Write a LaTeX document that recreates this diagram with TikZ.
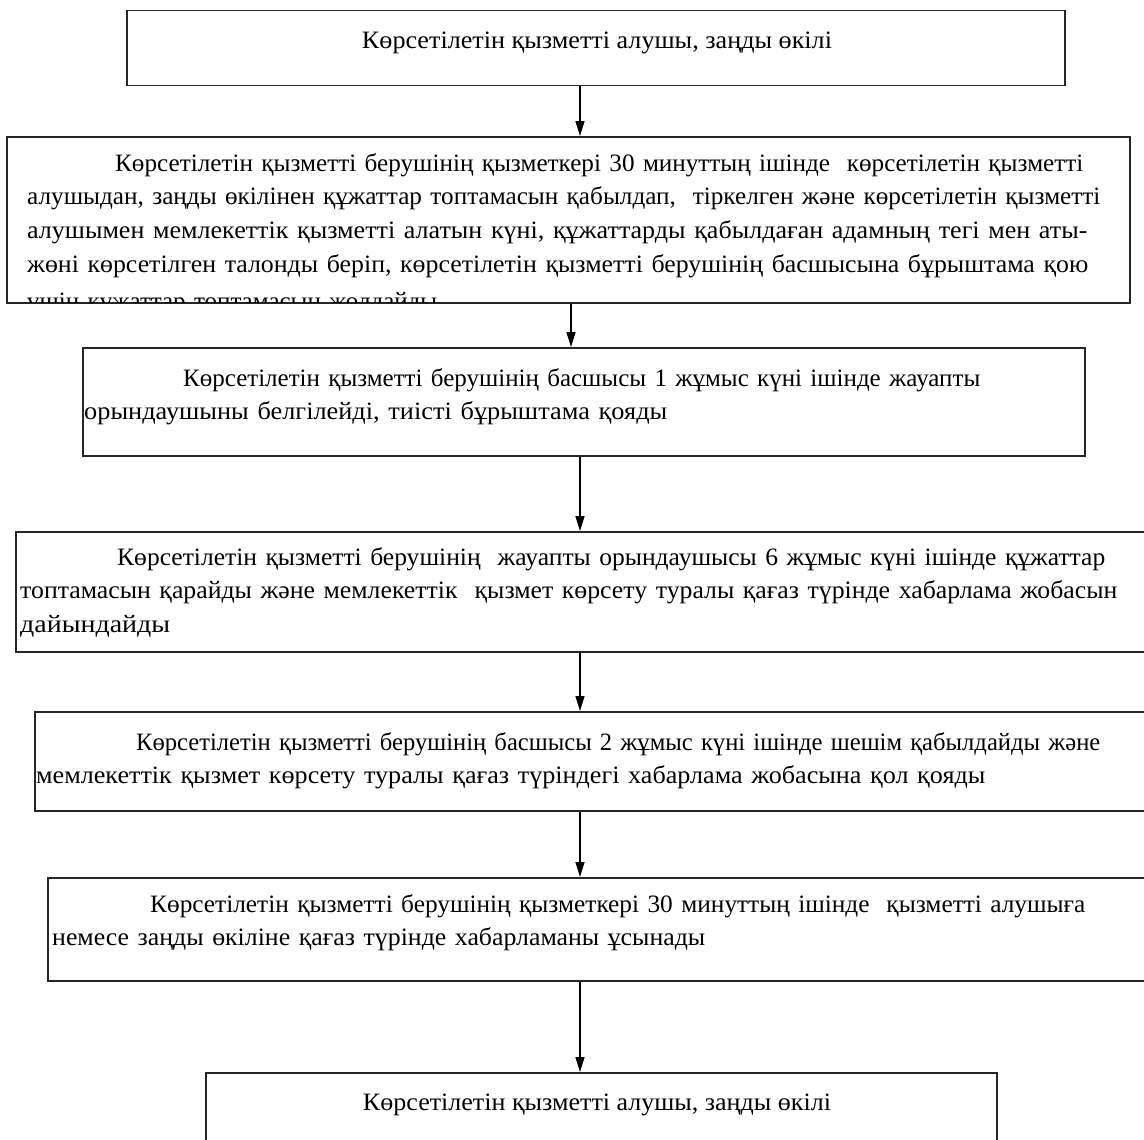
\documentclass[tikz,border=0pt]{standalone}
\usepackage{graphicx}
\usepackage{fontspec}
\setmainfont{Liberation Serif}
\usetikzlibrary{arrows.meta}
\newcommand{\fitline}[2]{\resizebox{#1pt}{\height}{#2}}
\newcommand{\justline}[2]{\makebox[#1pt][s]{#2}}
\begin{document}
\begin{tikzpicture}[x=1pt,y=-1pt,
  box/.style={draw=black!85,line width=1.5pt,rectangle,inner sep=0pt,anchor=north west},
  para/.style={anchor=base west,inner sep=0pt,text width=1150pt,align=left,font=\fontsize{25}{33.8}\selectfont},
  ctr/.style={anchor=base,inner sep=0pt,font=\fontsize{25}{33.8}\selectfont},
  arr/.style={draw=black,line width=1.5pt,-{Triangle[length=15pt,width=9pt]}}]
\useasboundingbox (0,0) rectangle (1144,1140);
\begin{scope}
\clip (0,0) rectangle (1144,1140);
% boxes
\node[box,minimum width=938pt,minimum height=75pt] (b1) at (126,10) {};
\node[box,minimum width=1123pt,minimum height=166pt] (b2) at (6,136) {};
\node[box,minimum width=1002pt,minimum height=108pt] (b3) at (82,347) {};
\node[box,minimum width=1160pt,minimum height=120pt] (b4) at (15,531) {};
\node[box,minimum width=1140pt,minimum height=99pt] (b5) at (34,711) {};
\node[box,minimum width=1130pt,minimum height=103pt] (b6) at (47,877) {};
\node[box,minimum width=791pt,minimum height=100pt] (b7) at (205,1072) {};
% texts
\node[ctr] (t1) at (597,49) {\fitline{470}{Көрсетілетін қызметті алушы, заңды өкілі}};
\begin{scope}
\clip ([yshift=-0.8pt]b2.north west) rectangle ([yshift=0.8pt]b2.south east);
\node[para] (t2) at (27,171) {\hspace*{88pt}\fitline{968}{Көрсетілетін қызметті берушінің қызметкері 30 минуттың ішінде\ \ көрсетілетін қызметті}\\
\fitline{1073}{алушыдан, заңды өкілінен құжаттар топтамасын қабылдап,\ \ тіркелген және көрсетілетін қызметті}\\
\fitline{1060}{алушымен мемлекеттік қызметті алатын күні, құжаттарды қабылдаған адамның тегі мен аты-}\\
\fitline{1061}{жөні көрсетілген талонды беріп, көрсетілетін қызметті берушінің басшысына бұрыштама қою}\\[3pt]
үшін құжаттар топтамасын жолдайды};
\end{scope}
\node[para] (t3) at (84,386) {\hspace*{99pt}\justline{884}{Көрсетілетін қызметті берушінің басшысы 1 жұмыс күні ішінде жауапты}\\
\fitline{583}{орындаушыны белгілейді, тиісті бұрыштама қояды}};
\node[para] (t4) at (20,565) {\hspace*{97pt}\fitline{988}{Көрсетілетін қызметті берушінің\ \ жауапты орындаушысы 6 жұмыс күні ішінде құжаттар}\\
\fitline{1097}{топтамасын қарайды және мемлекеттік\ \ қызмет көрсету туралы қағаз түрінде хабарлама жобасын}\\
\fitline{150}{дайындайды}};
\node[para] (t5) at (36,750) {\hspace*{100pt}\fitline{964}{Көрсетілетін қызметті берушінің басшысы 2 жұмыс күні ішінде шешім қабылдайды және}\\
\fitline{949}{мемлекеттік қызмет көрсету туралы қағаз түріндегі хабарлама жобасына қол қояды}};
\node[para] (t6) at (52,912) {\hspace*{98pt}\fitline{935}{Көрсетілетін қызметті берушінің қызметкері 30 минуттың ішінде\ \ қызметті алушыға}\\
\fitline{653}{немесе заңды өкіліне қағаз түрінде хабарламаны ұсынады}};
\node[ctr] (t7) at (597,1110) {\fitline{468}{Көрсетілетін қызметті алушы, заңды өкілі}};
% arrow x positions
\coordinate (xa) at (580,0);
\coordinate (xb) at (571,0);
\coordinate (xc) at (580,0);
\draw[arr] (b1.south -| xa) -- (b2.north -| xa);
\draw[arr] (b2.south -| xb) -- (b3.north -| xb);
\draw[arr] (b3.south -| xc) -- (b4.north -| xc);
\draw[arr] (b4.south -| xc) -- (b5.north -| xc);
\draw[arr] (b5.south -| xc) -- (b6.north -| xc);
\draw[arr] (b6.south -| xc) -- (b7.north -| xc);
\end{scope}
\end{tikzpicture}
\end{document}
